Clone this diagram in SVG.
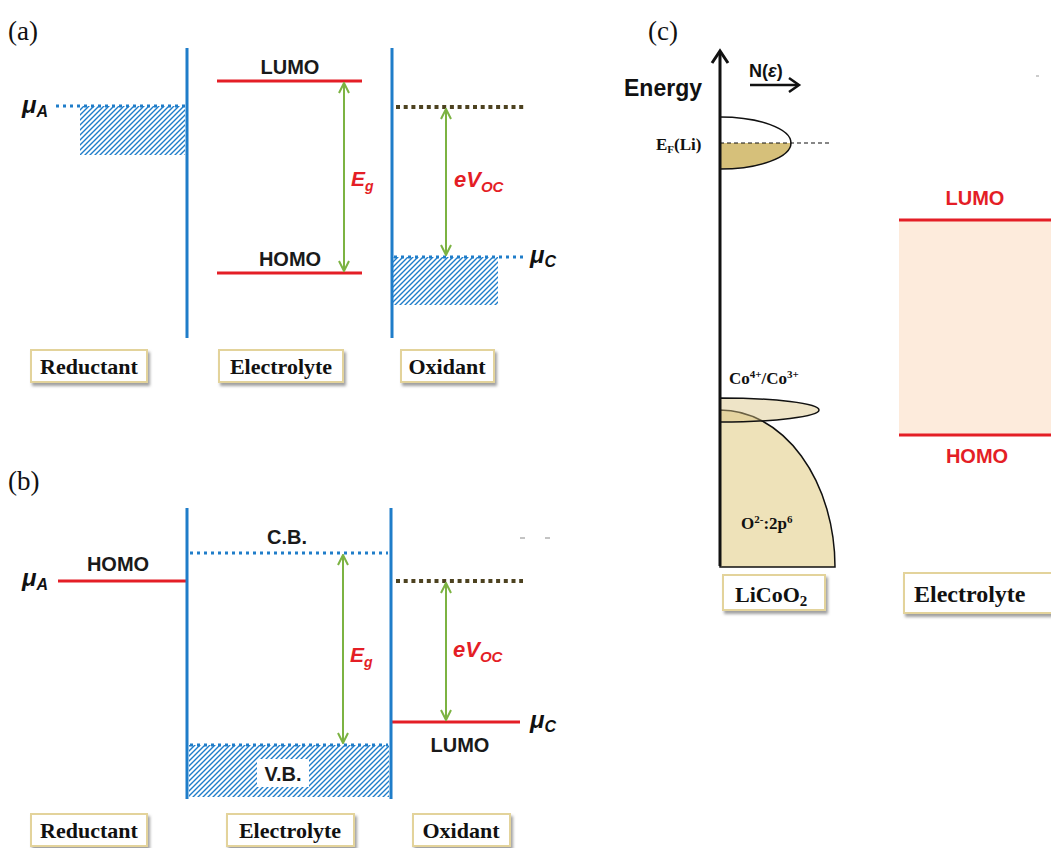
<svg xmlns="http://www.w3.org/2000/svg" width="1051" height="848" viewBox="0 0 1051 848">
<defs>
<pattern id="hatch" patternUnits="userSpaceOnUse" width="5" height="5">
<path d="M-1,1 l2,-2 M0,5 l5,-5 M4,6 l2,-2" stroke="#1f7dc9" stroke-width="1.4"/>
</pattern>
<filter id="sh" x="-10%" y="-20%" width="130%" height="160%">
<feDropShadow dx="2" dy="3" stdDeviation="1.5" flood-color="#777" flood-opacity="0.7"/>
</filter>
<marker id="ah" viewBox="0 0 12 12" refX="11" refY="6" markerWidth="12" markerHeight="12" markerUnits="userSpaceOnUse" orient="auto-start-reverse">
<path d="M1,1 L11,6 L1,11" fill="none" stroke="#7cb342" stroke-width="2"/>
</marker>
<style>
.blue{stroke:#1f7dc9;stroke-width:3;fill:none}
.bdot{stroke:#1f7dc9;stroke-width:3;stroke-dasharray:3 4;fill:none}
.brdot{stroke:#4d4220;stroke-width:4;stroke-dasharray:4 3.7;fill:none}
.red{stroke:#e41e26;stroke-width:3;fill:none}
.grn{stroke:#7cb342;stroke-width:2;fill:none;marker-start:url(#ah);marker-end:url(#ah)}
.sans{font-family:"Liberation Sans",Arial,sans-serif;font-weight:bold;font-size:20px;fill:#1a1a1a}
.bs{font-family:"Liberation Sans",Arial,sans-serif;font-weight:bold;fill:#111}
.ital{font-family:"Liberation Sans",Arial,sans-serif;font-weight:bold;font-style:italic}
.redt{fill:#e41e26}
.box{fill:#fff;stroke:#e3d39b;stroke-width:2;filter:url(#sh)}
.ser{font-family:"Liberation Serif","Times New Roman",serif;font-weight:bold;fill:#111}
.pl{font-family:"Liberation Serif","Times New Roman",serif;font-size:27px;fill:#111}
</style>
</defs>

<!-- Panel labels -->
<text class="pl" x="8" y="40">(a)</text>
<text class="pl" x="8" y="490">(b)</text>
<text class="pl" x="648" y="40">(c)</text>

<!-- ===== Panel (a) ===== -->
<g id="a-reductant">
<rect x="80" y="106" width="105" height="49" fill="url(#hatch)"/>
<line class="bdot" x1="56" y1="106" x2="185" y2="106"/>
<text class="ital" x="22" y="113" font-size="24" fill="#111">μ<tspan font-size="16" dy="4">A</tspan></text>
</g>
<g id="a-electrolyte">
<line class="red" x1="217" y1="81" x2="362" y2="81"/>
<text class="sans" x="290" y="74" text-anchor="middle">LUMO</text>
<line class="red" x1="217" y1="273" x2="362" y2="273"/>
<text class="sans" x="290" y="266" text-anchor="middle">HOMO</text>
<text class="ital redt" x="351" y="186" font-size="21">E<tspan font-size="14" dy="5">g</tspan></text>
</g>
<g id="a-oxidant">
<rect x="393" y="257" width="105" height="48" fill="url(#hatch)"/>
<line class="brdot" x1="396" y1="107" x2="525" y2="107"/>
<line class="bdot" x1="394" y1="257" x2="523" y2="257"/>
<text class="ital redt" x="454" y="187" font-size="22">eV<tspan font-size="15" dy="5">OC</tspan></text>
<text class="ital" x="530" y="263" font-size="24" fill="#111">μ<tspan font-size="16" dy="4">C</tspan></text>
</g>
<g id="a-walls">
<line class="blue" x1="187" y1="48" x2="187" y2="338"/>
<line class="blue" x1="392" y1="48" x2="392" y2="338"/>
</g>
<g id="a-labels">
<rect class="box" x="31" y="350" width="116" height="32"/>
<text class="ser" x="89" y="374" font-size="22" text-anchor="middle">Reductant</text>
<rect class="box" x="219" y="350" width="124" height="32"/>
<text class="ser" x="281" y="374" font-size="22" text-anchor="middle">Electrolyte</text>
<rect class="box" x="401" y="350" width="93" height="32"/>
<text class="ser" x="447" y="374" font-size="22" text-anchor="middle">Oxidant</text>
</g>

<!-- ===== Panel (b) ===== -->
<g id="b-reductant">
<line class="red" x1="58" y1="581" x2="187" y2="581"/>
<text class="sans" x="118" y="571" text-anchor="middle">HOMO</text>
<text class="ital" x="22" y="586" font-size="24" fill="#111">μ<tspan font-size="16" dy="4">A</tspan></text>
</g>
<g id="b-electrolyte">
<line class="bdot" x1="190" y1="553" x2="388" y2="553"/>
<text class="sans" x="287" y="544" text-anchor="middle">C.B.</text>
<rect x="189" y="745" width="200" height="52" fill="url(#hatch)"/>
<line class="bdot" x1="190" y1="745" x2="388" y2="745"/>
<rect x="257" y="759" width="52" height="28" fill="#fff"/>
<text class="sans" x="283" y="781" text-anchor="middle">V.B.</text>
<text class="ital redt" x="350" y="662" font-size="21">E<tspan font-size="14" dy="5">g</tspan></text>
</g>
<g id="b-oxidant">
<line class="brdot" x1="396" y1="581" x2="523" y2="581"/>
<line class="red" x1="391" y1="722" x2="520" y2="722"/>
<text class="sans" x="460" y="752" text-anchor="middle">LUMO</text>
<text class="ital redt" x="453" y="657" font-size="22">eV<tspan font-size="15" dy="5">OC</tspan></text>
<text class="ital" x="530" y="728" font-size="24" fill="#111">μ<tspan font-size="16" dy="4">C</tspan></text>
<line x1="520" y1="538" x2="525" y2="538" stroke="#888" stroke-width="1"/>
<line x1="545" y1="538" x2="550" y2="538" stroke="#888" stroke-width="1"/>
</g>
<g id="b-walls">
<line class="blue" x1="187" y1="508" x2="187" y2="799"/>
<line class="blue" x1="391" y1="508" x2="391" y2="799"/>
</g>
<g id="b-labels">
<rect class="box" x="31" y="814" width="116" height="32"/>
<text class="ser" x="89" y="838" font-size="22" text-anchor="middle">Reductant</text>
<rect class="box" x="227" y="814" width="127" height="32"/>
<text class="ser" x="290" y="838" font-size="22" text-anchor="middle">Electrolyte</text>
<rect class="box" x="413" y="814" width="97" height="32"/>
<text class="ser" x="461" y="838" font-size="22" text-anchor="middle">Oxidant</text>
</g>

<!-- ===== Panel (c) ===== -->
<g id="c-licoo2">
<path d="M720,410 A115,157 0 0 1 835,567 L720,567 Z" fill="#eee2b9" stroke="#111" stroke-width="1.5"/>
<path d="M720,398 A99,12 0 0 1 720,422 Z" fill="#d9c383" fill-opacity="0.45" stroke="#111" stroke-width="1.5"/>
<path d="M720,143 L791,143 A71,26 0 0 1 720,169 Z" fill="#d6c07a"/>
<path d="M720,117 A71,26 0 0 1 720,169" fill="none" stroke="#111" stroke-width="1.5"/>
<line x1="720" y1="143" x2="830" y2="143" stroke="#111" stroke-width="1.2" stroke-dasharray="4 3"/>
<line x1="720" y1="566" x2="720" y2="52" stroke="#111" stroke-width="3"/>
<polyline points="712,63 720,51 728,63" fill="none" stroke="#111" stroke-width="3"/>
<text class="bs" x="624" y="96" font-size="23">Energy</text>
<text class="bs" x="749" y="77" font-size="18">N(<tspan font-style="italic">ε</tspan>)</text>
<line x1="750" y1="85" x2="797" y2="85" stroke="#111" stroke-width="2.5"/>
<polyline points="789,78 799,85 789,92" fill="none" stroke="#111" stroke-width="2.5"/>
<text class="ser" x="656" y="150" font-size="17">E<tspan font-size="11" dy="3">F</tspan><tspan dy="-3">(Li)</tspan></text>
<text class="ser" x="729" y="384" font-size="17">Co<tspan font-size="11" dy="-6">4+</tspan><tspan dy="6">/Co</tspan><tspan font-size="11" dy="-6">3+</tspan></text>
<text class="ser" x="741" y="529" font-size="17">O<tspan font-size="11" dy="-6">2-</tspan><tspan dy="6">:2p</tspan><tspan font-size="11" dy="-6">6</tspan></text>
<rect class="box" x="723" y="575" width="102" height="35"/>
<text class="ser" x="735" y="602" font-size="22">LiCoO<tspan font-size="15" dy="4">2</tspan></text>
</g>
<g id="c-electrolyte">
<rect x="899" y="220" width="152" height="215" fill="#fdebdc"/>
<line class="red" x1="899" y1="220" x2="1051" y2="220"/>
<line class="red" x1="899" y1="435" x2="1051" y2="435"/>
<text class="sans redt" x="975" y="205" text-anchor="middle">LUMO</text>
<text class="sans redt" x="977" y="463" text-anchor="middle">HOMO</text>
<rect class="box" x="904" y="573" width="160" height="40"/>
<text class="ser" x="914" y="602" font-size="24">Electrolyte</text>
<line x1="1036" y1="76" x2="1039" y2="76" stroke="#999" stroke-width="1"/>
</g>

<g id="connectors">
<line class="grn" x1="344" y1="83" x2="344" y2="271"/>
<line class="grn" x1="446" y1="109" x2="446" y2="255"/>
<line class="grn" x1="343" y1="555" x2="343" y2="743"/>
<line class="grn" x1="446" y1="583" x2="446" y2="720"/>
</g>
</svg>
